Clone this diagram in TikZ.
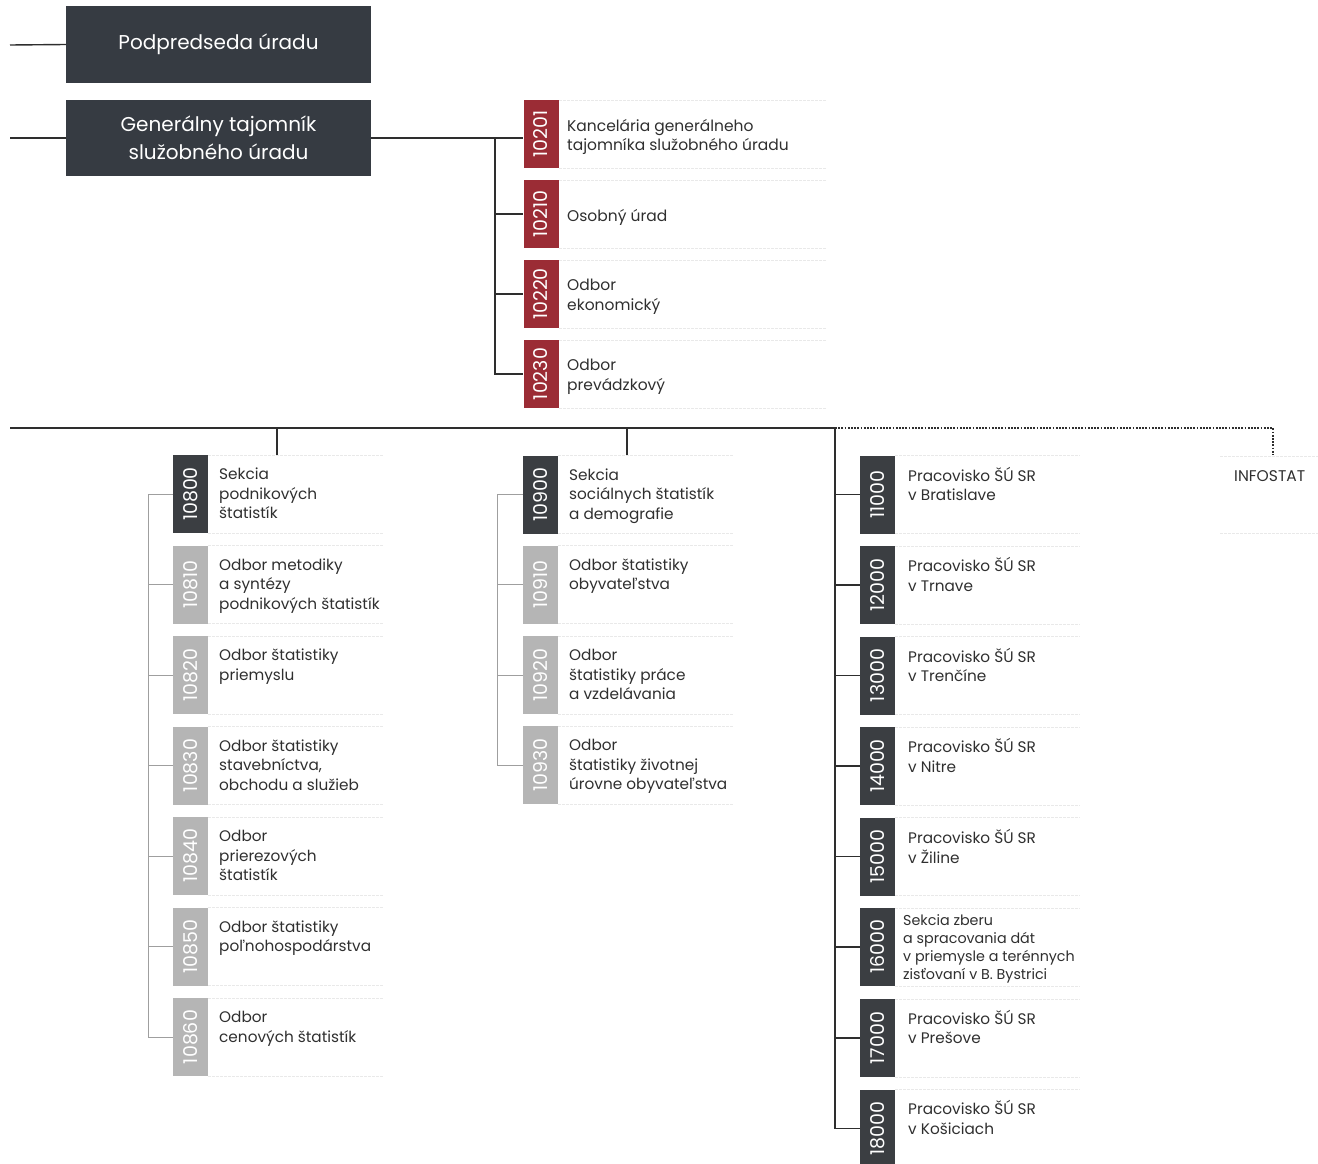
\documentclass[tikz,border=0pt]{standalone}
\usepackage{fontspec}
\setmainfont{Poppins}
\definecolor{darkbox}{HTML}{363B42}
\definecolor{tabdark}{HTML}{3B3E42}
\definecolor{tabred}{HTML}{9B2C35}
\definecolor{tabgrey}{HTML}{B5B5B5}
\definecolor{txt}{HTML}{2F2F2F}
\definecolor{linec}{HTML}{2E2E2E}
\definecolor{sepc}{HTML}{E9E9E9}
\begin{document}
\begin{tikzpicture}[x=1pt,y=-1pt,
  topbox/.style={fill=darkbox, text=white, font=\fontsize{20}{28}\selectfont, align=center, minimum width=305pt, minimum height=77pt, inner sep=0pt},
  numtab/.style={rotate=90, minimum width=78pt, minimum height=35pt, inner sep=0pt, text=white, font=\fontsize{19}{19}\selectfont},
  darktab/.style={numtab, fill=tabdark},
  redtab/.style={numtab, fill=tabred, minimum width=68pt},
  greytab/.style={numtab, fill=tabgrey},
  entry/.style={anchor=north west, align=left, inner sep=0pt, text=txt, font=\fontsize{15.3}{19.5}\selectfont},
  smallentry/.style={entry, font=\fontsize{14.3}{18}\selectfont},
  redentry/.style={anchor=west, align=left, inner sep=0pt, text=txt, font=\fontsize{15.5}{19.5}\selectfont},
  conn/.style={draw=linec, line width=1.4pt},
  subconn/.style={draw=gray!75, line width=1pt},
  dots/.style={draw=linec, line width=1.2pt, dash pattern=on 1.8pt off 1.4pt},
  sep/.style={draw=sepc, line width=0.8pt, dash pattern=on 3pt off 1pt}]
\useasboundingbox (0,0) rectangle (1318,1164);

% top boxes
\node[topbox] (pod) at (218.5,44.5) {Podpredseda úradu};
\node[topbox, minimum height=76pt] (gen) at (218.5,138) {Generálny tajomník\\služobného úradu};
\coordinate (lp) at (10,45);
\coordinate (lg) at (10,138);
\draw[conn] (lp) -- (pod.west);
\draw[conn] (lg) -- (gen.west);

% red tabs
\node[redtab] (r1) at (541,134) {10201};
\node[redtab] (r2) at (541,214) {10210};
\node[redtab] (r3) at (541,294) {10220};
\node[redtab] (r4) at (541,374) {10230};
\node[redentry] (rt1) at (567,137) {Kancelária generálneho\\tajomníka služobného úradu};
\node[redentry] (rt2) at (567,217) {Osobný úrad};
\node[redentry] (rt3) at (567,297) {Odbor\\ekonomický};
\node[redentry] (rt4) at (567,377) {Odbor\\prevádzkový};
\foreach \t in {100,168,180,248,260,328,340,408} \draw[sep] (559,\t) -- (826,\t);
\coordinate (rs) at (495,0);
\draw[conn] (gen.east) -- (r1.north |- gen.east);
\draw[conn] (rs |- gen.east) |- (r4.north);
\draw[conn] (rs |- r2.north) -- (r2.north);
\draw[conn] (rs |- r3.north) -- (r3.north);

% main bus
\coordinate (busL) at (10,428);
\coordinate (busR) at (835,428);
\coordinate (d1) at (277,428);
\coordinate (d1b) at (277,455);
\coordinate (d2) at (627,428);
\coordinate (d2b) at (627,456);
\coordinate (infoTop) at (1273,455);
\draw[conn] (busL) -- (busR);
\draw[conn] (d1) -- (d1b);
\draw[conn] (d2) -- (d2b);
\draw[dots] (busR) -| (infoTop);

% INFOSTAT
\node[anchor=west, inner sep=0pt, text=txt, font=\fontsize{15.5}{18}\selectfont] (info) at (1234,476) {INFOSTAT};
\draw[sep] (1220,456) -- (1318,456);
\draw[sep] (1220,533) -- (1318,533);

% left column
\node[darktab] (a0) at (190.5,494) {10800};
\node[greytab] (a1) at (190.5,584.5) {10810};
\node[greytab] (a2) at (190.5,675) {10820};
\node[greytab] (a3) at (190.5,765.5) {10830};
\node[greytab] (a4) at (190.5,856) {10840};
\node[greytab] (a5) at (190.5,946.5) {10850};
\node[greytab] (a6) at (190.5,1037) {10860};
\node[entry] (at0) at (219,466) {\strut Sekcia\\podnikových\\štatistík};
\node[entry] (at1) at (219,556.5) {\strut Odbor metodiky\\a syntézy\\podnikových štatistík};
\node[entry] (at2) at (219,647) {\strut Odbor štatistiky\\priemyslu};
\node[entry] (at3) at (219,737.5) {\strut Odbor štatistiky\\stavebníctva,\\obchodu a služieb};
\node[entry] (at4) at (219,828) {\strut Odbor\\prierezových\\štatistík};
\node[entry] (at5) at (219,918.5) {\strut Odbor štatistiky\\poľnohospodárstva};
\node[entry] (at6) at (219,1009) {\strut Odbor\\cenových štatistík};
\foreach \t in {455,545.5,636,726.5,817,907.5,998} {
  \draw[sep] (208,\t) -- (383,\t);
  \draw[sep] (208,\t+78) -- (383,\t+78);
}
\coordinate (ls) at (148,0);
\draw[subconn] (ls |- a0.north) |- (a6.north);
\draw[subconn] (a0.north) -- (ls |- a0.north);
\foreach \n in {a1,a2,a3,a4,a5} \draw[subconn] (ls |- \n.north) -- (\n.north);

% middle column
\node[darktab] (b0) at (540.5,494.5) {10900};
\node[greytab] (b1) at (540.5,584.5) {10910};
\node[greytab] (b2) at (540.5,675) {10920};
\node[greytab] (b3) at (540.5,765) {10930};
\node[entry] (bt0) at (569,466.5) {\strut Sekcia\\sociálnych štatistík\\a demografie};
\node[entry] (bt1) at (569,556.5) {\strut Odbor štatistiky\\obyvateľstva};
\node[entry] (bt2) at (569,647) {\strut Odbor\\štatistiky práce\\a vzdelávania};
\node[entry] (bt3) at (569,737) {\strut Odbor\\štatistiky životnej\\úrovne obyvateľstva};
\foreach \t in {455.5,545.5,636,726} {
  \draw[sep] (558,\t) -- (733,\t);
  \draw[sep] (558,\t+78) -- (733,\t+78);
}
\coordinate (ms) at (497,0);
\draw[subconn] (ms |- b0.north) |- (b3.north);
\draw[subconn] (b0.north) -- (ms |- b0.north);
\foreach \n in {b1,b2} \draw[subconn] (ms |- \n.north) -- (\n.north);

% right column
\node[darktab] (c1) at (877.5,494.5) {11000};
\node[darktab] (c2) at (877.5,585) {12000};
\node[darktab] (c3) at (877.5,675.5) {13000};
\node[darktab] (c4) at (877.5,766) {14000};
\node[darktab] (c5) at (877.5,856.5) {15000};
\node[darktab] (c6) at (877.5,947) {16000};
\node[darktab] (c7) at (877.5,1038) {17000};
\node[darktab] (c8) at (877.5,1128.5) {18000};
\node[entry] (ct1) at (908,467) {\strut Pracovisko ŠÚ SR\\v Bratislave};
\node[entry] (ct2) at (908,557.5) {\strut Pracovisko ŠÚ SR\\v Trnave};
\node[entry] (ct3) at (908,648) {\strut Pracovisko ŠÚ SR\\v Trenčíne};
\node[entry] (ct4) at (908,738.5) {\strut Pracovisko ŠÚ SR\\v Nitre};
\node[entry] (ct5) at (908,829) {\strut Pracovisko ŠÚ SR\\v Žiline};
\node[smallentry] (ct6) at (903,913) {\strut Sekcia zberu\\a spracovania dát\\v priemysle a terénnych\\zisťovaní v B. Bystrici};
\node[entry] (ct7) at (908,1010) {\strut Pracovisko ŠÚ SR\\v Prešove};
\node[entry] (ct8) at (908,1100.5) {\strut Pracovisko ŠÚ SR\\v Košiciach};
\foreach \t in {455.5,546,636.5,727,817.5,908,999,1089.5} {
  \draw[sep] (895,\t) -- (1080,\t);
  \draw[sep] (895,\t+78) -- (1080,\t+78);
}
\draw[conn] (busR) |- (c8.north);
\foreach \n in {c1,c2,c3,c4,c5,c6,c7} \draw[conn] (busR |- \n.north) -- (\n.north);
\end{tikzpicture}
\end{document}
